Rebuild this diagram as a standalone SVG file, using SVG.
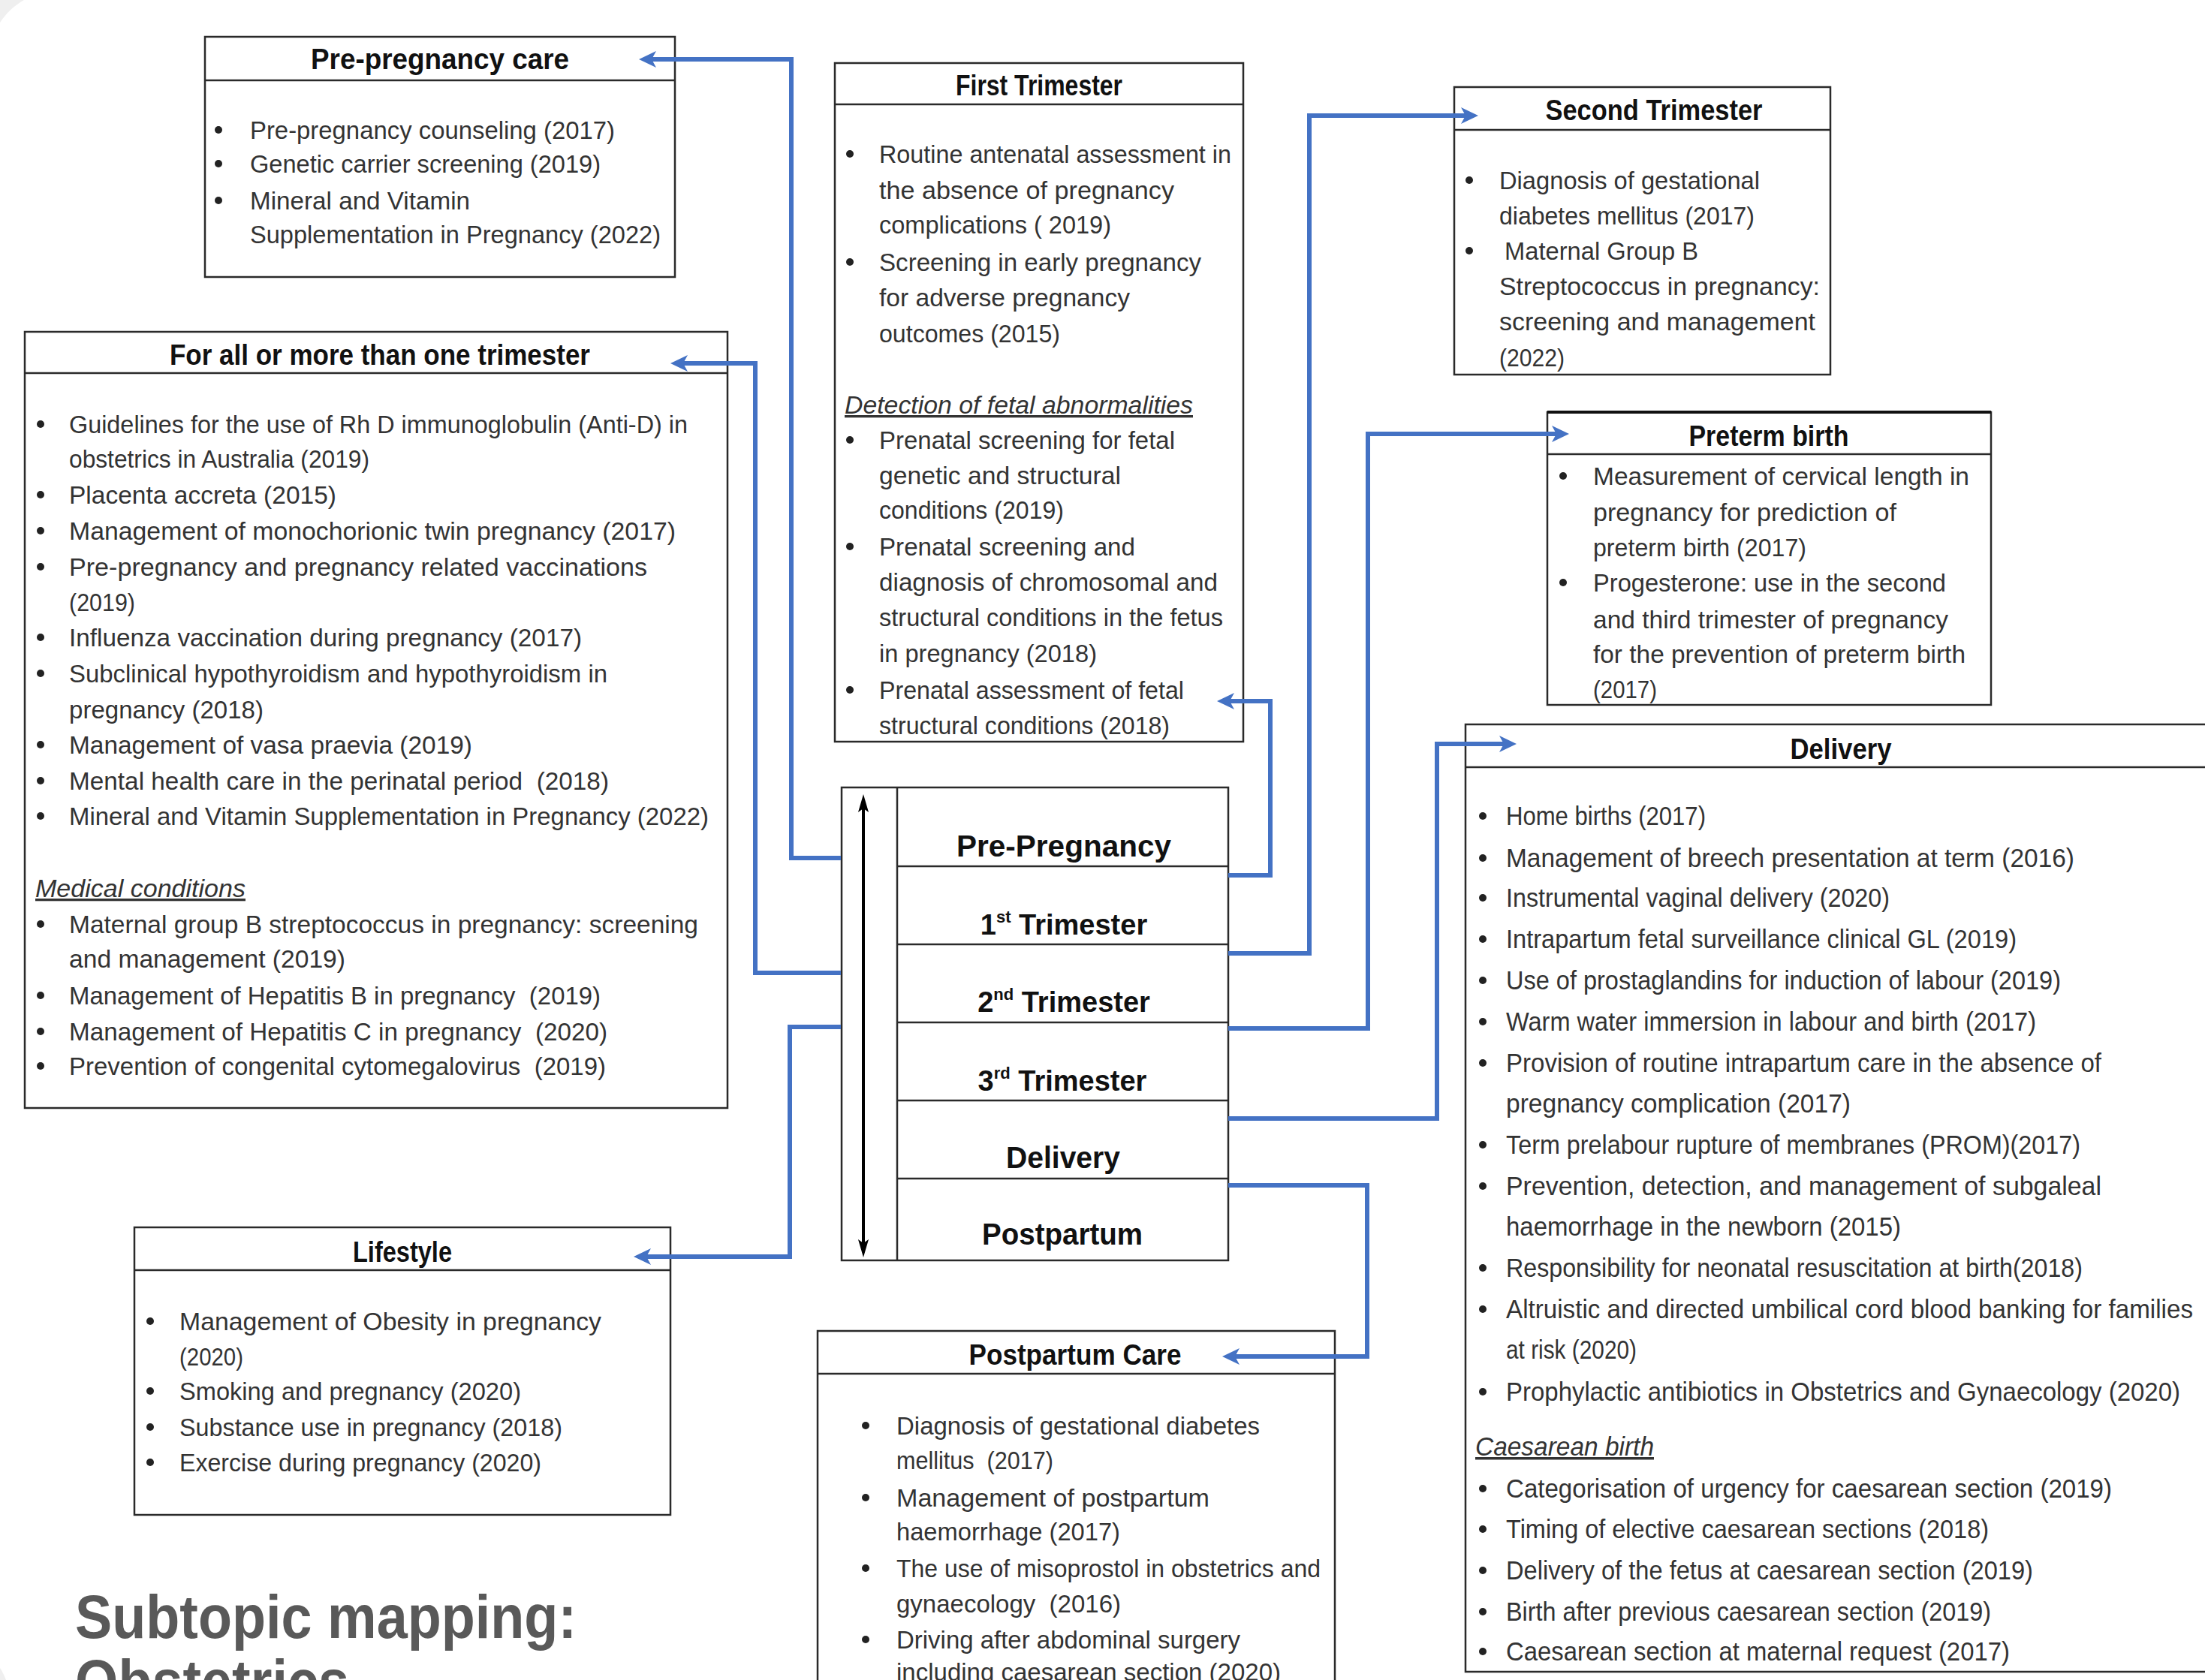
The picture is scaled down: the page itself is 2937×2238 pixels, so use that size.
<svg xmlns="http://www.w3.org/2000/svg" width="2937" height="2238" viewBox="0 0 2937 2238">
<style>
.box{fill:#fff;stroke:#2a2a2a;stroke-width:2.5}
.hdr{stroke:#2a2a2a;stroke-width:2.5}
.t{font-family:'Liberation Sans',Arial,sans-serif;font-size:33px;fill:#333}
.td{font-family:'Liberation Sans',Arial,sans-serif;font-size:35px;fill:#333}
.sub{font-style:italic;text-decoration:underline}
.ttl{font-family:'Liberation Sans',Arial,sans-serif;font-weight:bold;font-size:38px;fill:#111;text-anchor:middle}
.stg{font-family:'Liberation Sans',Arial,sans-serif;font-weight:bold;font-size:40px;fill:#111;text-anchor:middle}
.stg2{font-family:'Liberation Sans',Arial,sans-serif;font-weight:bold;font-size:38px;fill:#111;text-anchor:middle}
.b{fill:#222}
.conn{fill:none;stroke:#4472C4;stroke-width:6;marker-end:url(#ah)}
.big{font-family:'Liberation Sans',Arial,sans-serif;font-weight:bold;font-size:82px;fill:#595959}
</style>
<defs>
<marker id="ah" markerUnits="userSpaceOnUse" markerWidth="24" markerHeight="24" viewBox="0 0 24 24" refX="10" refY="12" orient="auto">
<path d="M0,1 L23,12 L0,23 L6,12 Z" fill="#4472C4"/>
</marker>
<marker id="bh" markerUnits="userSpaceOnUse" markerWidth="24" markerHeight="14" viewBox="0 0 24 14" refX="10" refY="7" orient="auto-start-reverse">
<path d="M0,0 L24,7 L0,14 L5,7 Z" fill="#000"/>
</marker>
</defs>
<rect width="2937" height="2238" fill="#fff"/>
<path d="M0,0 H32 C18,8 8,18 0,30 Z" fill="#efefef"/>
<path d="M0,2222 C4,2228 6,2233 8,2238 H0 Z" fill="#efefef"/>

<g id="pre-pregnancy-care">
<rect class="box" x="273" y="49" width="626" height="320"/>
<line class="hdr" x1="273" y1="107" x2="899" y2="107"/>
<text class="ttl" x="586" y="92" textLength="344" lengthAdjust="spacingAndGlyphs">Pre-pregnancy care</text>
<circle class="b" cx="291" cy="173" r="5"/><circle class="b" cx="291" cy="218" r="5"/><circle class="b" cx="291" cy="267" r="5"/>
<text class="t" x="333" y="185" textLength="486" lengthAdjust="spacingAndGlyphs">Pre-pregnancy counseling (2017)</text>
<text class="t" x="333" y="230" textLength="467" lengthAdjust="spacingAndGlyphs">Genetic carrier screening (2019)</text>
<text class="t" x="333" y="279" textLength="293" lengthAdjust="spacingAndGlyphs">Mineral and Vitamin</text>
<text class="t" x="333" y="324" textLength="547" lengthAdjust="spacingAndGlyphs">Supplementation in Pregnancy (2022)</text>
</g>

<g id="all-trimesters">
<rect class="box" x="33" y="442" width="936" height="1034"/>
<line class="hdr" x1="33" y1="497" x2="969" y2="497"/>
<text class="ttl" x="506" y="486" textLength="560" lengthAdjust="spacingAndGlyphs">For all or more than one trimester</text>
<circle class="b" cx="54" cy="565" r="5"/><circle class="b" cx="54" cy="659" r="5"/><circle class="b" cx="54" cy="707" r="5"/><circle class="b" cx="54" cy="755" r="5"/><circle class="b" cx="54" cy="849" r="5"/><circle class="b" cx="54" cy="897" r="5"/><circle class="b" cx="54" cy="992" r="5"/><circle class="b" cx="54" cy="1040" r="5"/><circle class="b" cx="54" cy="1087" r="5"/><circle class="b" cx="54" cy="1231" r="5"/><circle class="b" cx="54" cy="1326" r="5"/><circle class="b" cx="54" cy="1374" r="5"/><circle class="b" cx="54" cy="1420" r="5"/>
<text class="t" x="92" y="577" textLength="824" lengthAdjust="spacingAndGlyphs">Guidelines for the use of Rh D immunoglobulin (Anti-D) in</text>
<text class="t" x="92" y="623" textLength="400" lengthAdjust="spacingAndGlyphs">obstetrics in Australia (2019)</text>
<text class="t" x="92" y="671" textLength="356" lengthAdjust="spacingAndGlyphs">Placenta accreta (2015)</text>
<text class="t" x="92" y="719" textLength="808" lengthAdjust="spacingAndGlyphs">Management of monochorionic twin pregnancy (2017)</text>
<text class="t" x="92" y="767" textLength="770" lengthAdjust="spacingAndGlyphs">Pre-pregnancy and pregnancy related vaccinations</text>
<text class="t" x="92" y="814" textLength="88" lengthAdjust="spacingAndGlyphs">(2019)</text>
<text class="t" x="92" y="861" textLength="683" lengthAdjust="spacingAndGlyphs">Influenza vaccination during pregnancy (2017)</text>
<text class="t" x="92" y="909" textLength="717" lengthAdjust="spacingAndGlyphs">Subclinical hypothyroidism and hypothyroidism in</text>
<text class="t" x="92" y="957" textLength="259" lengthAdjust="spacingAndGlyphs">pregnancy (2018)</text>
<text class="t" x="92" y="1004" textLength="537" lengthAdjust="spacingAndGlyphs">Management of vasa praevia (2019)</text>
<text class="t" x="92" y="1052" textLength="719" lengthAdjust="spacingAndGlyphs" xml:space="preserve">Mental health care in the perinatal period  (2018)</text>
<text class="t" x="92" y="1099" textLength="852" lengthAdjust="spacingAndGlyphs">Mineral and Vitamin Supplementation in Pregnancy (2022)</text>
<text class="t sub" x="47" y="1195" textLength="280" lengthAdjust="spacingAndGlyphs">Medical conditions</text>
<text class="t" x="92" y="1243" textLength="838" lengthAdjust="spacingAndGlyphs">Maternal group B streptococcus in pregnancy: screening</text>
<text class="t" x="92" y="1289" textLength="368" lengthAdjust="spacingAndGlyphs">and management (2019)</text>
<text class="t" x="92" y="1338" textLength="708" lengthAdjust="spacingAndGlyphs" xml:space="preserve">Management of Hepatitis B in pregnancy  (2019)</text>
<text class="t" x="92" y="1386" textLength="717" lengthAdjust="spacingAndGlyphs" xml:space="preserve">Management of Hepatitis C in pregnancy  (2020)</text>
<text class="t" x="92" y="1432" textLength="715" lengthAdjust="spacingAndGlyphs" xml:space="preserve">Prevention of congenital cytomegalovirus  (2019)</text>
</g>

<g id="first-trimester">
<rect class="box" x="1112" y="84" width="544" height="904"/>
<line class="hdr" x1="1112" y1="139" x2="1656" y2="139"/>
<text class="ttl" x="1384" y="127" textLength="222" lengthAdjust="spacingAndGlyphs">First Trimester</text>
<circle class="b" cx="1132" cy="205" r="5"/><circle class="b" cx="1132" cy="349" r="5"/><circle class="b" cx="1132" cy="586" r="5"/><circle class="b" cx="1132" cy="728" r="5"/><circle class="b" cx="1132" cy="919" r="5"/>
<text class="t" x="1171" y="217" textLength="469" lengthAdjust="spacingAndGlyphs">Routine antenatal assessment in</text>
<text class="t" x="1171" y="265" textLength="393" lengthAdjust="spacingAndGlyphs">the absence of pregnancy</text>
<text class="t" x="1171" y="311" textLength="309" lengthAdjust="spacingAndGlyphs">complications ( 2019)</text>
<text class="t" x="1171" y="361" textLength="429" lengthAdjust="spacingAndGlyphs">Screening in early pregnancy</text>
<text class="t" x="1171" y="408" textLength="334" lengthAdjust="spacingAndGlyphs">for adverse pregnancy</text>
<text class="t" x="1171" y="456" textLength="241" lengthAdjust="spacingAndGlyphs">outcomes (2015)</text>
<text class="t sub" x="1125" y="551" textLength="464" lengthAdjust="spacingAndGlyphs">Detection of fetal abnormalities</text>
<text class="t" x="1171" y="598" textLength="394" lengthAdjust="spacingAndGlyphs">Prenatal screening for fetal</text>
<text class="t" x="1171" y="645" textLength="322" lengthAdjust="spacingAndGlyphs">genetic and structural</text>
<text class="t" x="1171" y="691" textLength="246" lengthAdjust="spacingAndGlyphs">conditions (2019)</text>
<text class="t" x="1171" y="740" textLength="341" lengthAdjust="spacingAndGlyphs">Prenatal screening and</text>
<text class="t" x="1171" y="787" textLength="451" lengthAdjust="spacingAndGlyphs">diagnosis of chromosomal and</text>
<text class="t" x="1171" y="834" textLength="458" lengthAdjust="spacingAndGlyphs">structural conditions in the fetus</text>
<text class="t" x="1171" y="882" textLength="290" lengthAdjust="spacingAndGlyphs">in pregnancy (2018)</text>
<text class="t" x="1171" y="931" textLength="406" lengthAdjust="spacingAndGlyphs">Prenatal assessment of fetal</text>
<text class="t" x="1171" y="978" textLength="387" lengthAdjust="spacingAndGlyphs">structural conditions (2018)</text>
</g>

<g id="second-trimester">
<rect class="box" x="1937" y="116" width="501" height="383"/>
<line class="hdr" x1="1937" y1="173" x2="2438" y2="173"/>
<text class="ttl" x="2203" y="160" textLength="289" lengthAdjust="spacingAndGlyphs">Second Trimester</text>
<circle class="b" cx="1957" cy="240" r="5"/><circle class="b" cx="1957" cy="334" r="5"/>
<text class="t" x="1997" y="252" textLength="347" lengthAdjust="spacingAndGlyphs">Diagnosis of gestational</text>
<text class="t" x="1997" y="299" textLength="340" lengthAdjust="spacingAndGlyphs">diabetes mellitus (2017)</text>
<text class="t" x="2004" y="346" textLength="258" lengthAdjust="spacingAndGlyphs">Maternal Group B</text>
<text class="t" x="1997" y="393" textLength="427" lengthAdjust="spacingAndGlyphs">Streptococcus in pregnancy:</text>
<text class="t" x="1997" y="440" textLength="421" lengthAdjust="spacingAndGlyphs">screening and management</text>
<text class="t" x="1997" y="488" textLength="87" lengthAdjust="spacingAndGlyphs">(2022)</text>
</g>

<g id="preterm-birth">
<rect class="box" x="2061" y="549" width="591" height="390"/>
<line stroke="#111" stroke-width="4" x1="2061" y1="549" x2="2652" y2="549"/>
<line class="hdr" x1="2061" y1="605" x2="2652" y2="605"/>
<text class="ttl" x="2356" y="594" textLength="213" lengthAdjust="spacingAndGlyphs">Preterm birth</text>
<circle class="b" cx="2082" cy="634" r="5"/><circle class="b" cx="2082" cy="776" r="5"/>
<text class="t" x="2122" y="646" textLength="501" lengthAdjust="spacingAndGlyphs">Measurement of cervical length in</text>
<text class="t" x="2122" y="694" textLength="404" lengthAdjust="spacingAndGlyphs">pregnancy for prediction of</text>
<text class="t" x="2122" y="741" textLength="284" lengthAdjust="spacingAndGlyphs">preterm birth (2017)</text>
<text class="t" x="2122" y="788" textLength="470" lengthAdjust="spacingAndGlyphs">Progesterone: use in the second</text>
<text class="t" x="2122" y="837" textLength="473" lengthAdjust="spacingAndGlyphs">and third trimester of pregnancy</text>
<text class="t" x="2122" y="883" textLength="496" lengthAdjust="spacingAndGlyphs">for the prevention of preterm birth</text>
<text class="t" x="2122" y="930" textLength="85" lengthAdjust="spacingAndGlyphs">(2017)</text>
</g>

<g id="delivery">
<rect class="box" x="1952" y="965" width="1000" height="1262"/>
<line class="hdr" x1="1952" y1="1022" x2="2952" y2="1022"/>
<text class="ttl" x="2452" y="1011" textLength="135" lengthAdjust="spacingAndGlyphs">Delivery</text>
<circle class="b" cx="1975" cy="1087" r="5"/><circle class="b" cx="1975" cy="1143" r="5"/><circle class="b" cx="1975" cy="1196" r="5"/><circle class="b" cx="1975" cy="1251" r="5"/><circle class="b" cx="1975" cy="1306" r="5"/><circle class="b" cx="1975" cy="1361" r="5"/><circle class="b" cx="1975" cy="1416" r="5"/><circle class="b" cx="1975" cy="1525" r="5"/><circle class="b" cx="1975" cy="1580" r="5"/><circle class="b" cx="1975" cy="1689" r="5"/><circle class="b" cx="1975" cy="1744" r="5"/><circle class="b" cx="1975" cy="1854" r="5"/><circle class="b" cx="1975" cy="1983" r="5"/><circle class="b" cx="1975" cy="2037" r="5"/><circle class="b" cx="1975" cy="2092" r="5"/><circle class="b" cx="1975" cy="2147" r="5"/><circle class="b" cx="1975" cy="2200" r="5"/>
<text class="td" x="2006" y="1099" textLength="266" lengthAdjust="spacingAndGlyphs">Home births (2017)</text>
<text class="td" x="2006" y="1155" textLength="757" lengthAdjust="spacingAndGlyphs">Management of breech presentation at term (2016)</text>
<text class="td" x="2006" y="1208" textLength="511" lengthAdjust="spacingAndGlyphs">Instrumental vaginal delivery (2020)</text>
<text class="td" x="2006" y="1263" textLength="680" lengthAdjust="spacingAndGlyphs">Intrapartum fetal surveillance clinical GL (2019)</text>
<text class="td" x="2006" y="1318" textLength="739" lengthAdjust="spacingAndGlyphs">Use of prostaglandins for induction of labour (2019)</text>
<text class="td" x="2006" y="1373" textLength="706" lengthAdjust="spacingAndGlyphs">Warm water immersion in labour and birth (2017)</text>
<text class="td" x="2006" y="1428" textLength="793" lengthAdjust="spacingAndGlyphs">Provision of routine intrapartum care in the absence of</text>
<text class="td" x="2006" y="1482" textLength="459" lengthAdjust="spacingAndGlyphs">pregnancy complication (2017)</text>
<text class="td" x="2006" y="1537" textLength="765" lengthAdjust="spacingAndGlyphs">Term prelabour rupture of membranes (PROM)(2017)</text>
<text class="td" x="2006" y="1592" textLength="793" lengthAdjust="spacingAndGlyphs">Prevention, detection, and management of subgaleal</text>
<text class="td" x="2006" y="1646" textLength="526" lengthAdjust="spacingAndGlyphs">haemorrhage in the newborn (2015)</text>
<text class="td" x="2006" y="1701" textLength="768" lengthAdjust="spacingAndGlyphs">Responsibility for neonatal resuscitation at birth(2018)</text>
<text class="td" x="2006" y="1756" textLength="915" lengthAdjust="spacingAndGlyphs">Altruistic and directed umbilical cord blood banking for families</text>
<text class="td" x="2006" y="1810" textLength="174" lengthAdjust="spacingAndGlyphs">at risk (2020)</text>
<text class="td" x="2006" y="1866" textLength="898" lengthAdjust="spacingAndGlyphs">Prophylactic antibiotics in Obstetrics and Gynaecology (2020)</text>
<text class="td sub" x="1965" y="1939" textLength="238" lengthAdjust="spacingAndGlyphs">Caesarean birth</text>
<text class="td" x="2006" y="1995" textLength="807" lengthAdjust="spacingAndGlyphs">Categorisation of urgency for caesarean section (2019)</text>
<text class="td" x="2006" y="2049" textLength="643" lengthAdjust="spacingAndGlyphs">Timing of elective caesarean sections (2018)</text>
<text class="td" x="2006" y="2104" textLength="702" lengthAdjust="spacingAndGlyphs">Delivery of the fetus at caesarean section (2019)</text>
<text class="td" x="2006" y="2159" textLength="646" lengthAdjust="spacingAndGlyphs">Birth after previous caesarean section (2019)</text>
<text class="td" x="2006" y="2212" textLength="671" lengthAdjust="spacingAndGlyphs">Caesarean section at maternal request (2017)</text>
</g>

<g id="lifestyle">
<rect class="box" x="179" y="1635" width="714" height="383"/>
<line class="hdr" x1="179" y1="1692" x2="893" y2="1692"/>
<text class="ttl" x="536" y="1681" textLength="132" lengthAdjust="spacingAndGlyphs">Lifestyle</text>
<circle class="b" cx="200" cy="1760" r="5"/><circle class="b" cx="200" cy="1853" r="5"/><circle class="b" cx="200" cy="1901" r="5"/><circle class="b" cx="200" cy="1948" r="5"/>
<text class="t" x="239" y="1772" textLength="562" lengthAdjust="spacingAndGlyphs">Management of Obesity in pregnancy</text>
<text class="t" x="239" y="1819" textLength="85" lengthAdjust="spacingAndGlyphs">(2020)</text>
<text class="t" x="239" y="1865" textLength="455" lengthAdjust="spacingAndGlyphs">Smoking and pregnancy (2020)</text>
<text class="t" x="239" y="1913" textLength="510" lengthAdjust="spacingAndGlyphs">Substance use in pregnancy (2018)</text>
<text class="t" x="239" y="1960" textLength="482" lengthAdjust="spacingAndGlyphs">Exercise during pregnancy (2020)</text>
</g>

<g id="postpartum-care">
<rect class="box" x="1089" y="1773" width="689" height="500"/>
<line class="hdr" x1="1089" y1="1830" x2="1778" y2="1830"/>
<text class="ttl" x="1432" y="1818" textLength="283" lengthAdjust="spacingAndGlyphs">Postpartum Care</text>
<circle class="b" cx="1153" cy="1899" r="5"/><circle class="b" cx="1153" cy="1995" r="5"/><circle class="b" cx="1153" cy="2089" r="5"/><circle class="b" cx="1153" cy="2184" r="5"/>
<text class="t" x="1194" y="1911" textLength="484" lengthAdjust="spacingAndGlyphs">Diagnosis of gestational diabetes</text>
<text class="t" x="1194" y="1957" textLength="209" lengthAdjust="spacingAndGlyphs" xml:space="preserve">mellitus  (2017)</text>
<text class="t" x="1194" y="2007" textLength="417" lengthAdjust="spacingAndGlyphs">Management of postpartum</text>
<text class="t" x="1194" y="2052" textLength="298" lengthAdjust="spacingAndGlyphs">haemorrhage (2017)</text>
<text class="t" x="1194" y="2101" textLength="565" lengthAdjust="spacingAndGlyphs">The use of misoprostol in obstetrics and</text>
<text class="t" x="1194" y="2148" textLength="299" lengthAdjust="spacingAndGlyphs" xml:space="preserve">gynaecology  (2016)</text>
<text class="t" x="1194" y="2196" textLength="458" lengthAdjust="spacingAndGlyphs">Driving after abdominal surgery</text>
<text class="t" x="1194" y="2239" textLength="512" lengthAdjust="spacingAndGlyphs">including caesarean section (2020)</text>
</g>

<g id="stages">
<rect class="box" x="1121" y="1049" width="515" height="630"/>
<line class="hdr" x1="1195" y1="1049" x2="1195" y2="1679"/>
<line class="hdr" x1="1195" y1="1154" x2="1636" y2="1154" stroke-width="3.5"/>
<line class="hdr" x1="1195" y1="1258" x2="1636" y2="1258"/>
<line class="hdr" x1="1195" y1="1362" x2="1636" y2="1362" stroke-width="3.5"/>
<line class="hdr" x1="1195" y1="1466" x2="1636" y2="1466"/>
<line class="hdr" x1="1195" y1="1570" x2="1636" y2="1570"/>
<line x1="1150" y1="1072" x2="1150" y2="1661" stroke="#000" stroke-width="4" marker-start="url(#bh)" marker-end="url(#bh)"/>
<text class="stg" x="1417" y="1141" textLength="286" lengthAdjust="spacingAndGlyphs">Pre-Pregnancy</text>
<text class="stg2" x="1417" y="1245">1<tspan font-size="22" dy="-16">st</tspan><tspan dy="16"> Trimester</tspan></text>
<text class="stg2" x="1417" y="1348">2<tspan font-size="22" dy="-16">nd</tspan><tspan dy="16"> Trimester</tspan></text>
<text class="stg2" x="1415" y="1453">3<tspan font-size="22" dy="-16">rd</tspan><tspan dy="16"> Trimester</tspan></text>
<text class="stg" x="1416" y="1556" textLength="152" lengthAdjust="spacingAndGlyphs">Delivery</text>
<text class="stg" x="1415" y="1658" textLength="214" lengthAdjust="spacingAndGlyphs">Postpartum</text>
</g>

<g id="connectors">
<path class="conn" d="M1120,1143 H1054 V79 H864"/>
<path class="conn" d="M1120,1296 H1006 V484 H906"/>
<path class="conn" d="M1120,1368 H1052 V1674 H857"/>
<path class="conn" d="M1636,1166 H1692 V934 H1634"/>
<path class="conn" d="M1636,1270 H1744 V154 H1956"/>
<path class="conn" d="M1636,1370 H1822 V578 H2077"/>
<path class="conn" d="M1636,1490 H1914 V991 H2007"/>
<path class="conn" d="M1636,1579 H1821 V1807 H1641"/>
</g>

<g id="title">
<text class="big" x="100" y="2182" textLength="668" lengthAdjust="spacingAndGlyphs">Subtopic mapping:</text>
<text class="big" x="100" y="2268" textLength="365" lengthAdjust="spacingAndGlyphs">Obstetrics</text>
</g>
</svg>
